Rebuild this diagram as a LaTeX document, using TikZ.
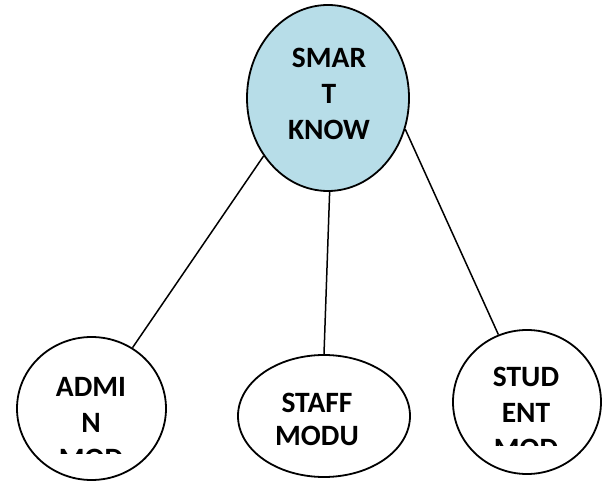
\documentclass[tikz,border=0pt]{standalone}
\usepackage{fontspec}
\setmainfont{Carlito}
\usetikzlibrary{shapes.geometric}
\definecolor{topblue}{HTML}{B7DDE8}
\tikzset{
  module/.style={ellipse, draw=black, line width=1.8pt, inner sep=0pt},
  label/.style={font=\bfseries\fontsize{29.5}{36}\selectfont, align=center, inner sep=0pt, anchor=base},
  link/.style={draw=black, line width=1.5pt}
}
\begin{document}
\begin{tikzpicture}[x=1pt,y=-1pt]
  \useasboundingbox (0,0) rectangle (603,481);

  % ellipses
  \node[module, fill=topblue, minimum width=162pt, minimum height=186pt] (root) at (328,98) {};
  \node[module, fill=white, minimum width=149pt, minimum height=143pt] (admin) at (91.5,408.5) {};
  \node[module, fill=white, minimum width=172pt, minimum height=122pt] (staff) at (324,416) {};
  \node[module, fill=white, minimum width=148pt, minimum height=144pt] (student) at (527,402) {};

  % connectors
  \draw[link] (root.222) -- (admin.56);
  \draw[link] (root.271) -- (staff.90);
  \draw[link] (root.338) -- (student.113);

  % labels (anchored at the baseline of their last line)
  \node[label] (rootlbl) at (329,140) {SMAR\\T\\KNOW};
  \node[label, font=\bfseries\fontsize{29.5}{33}\selectfont] (stafflbl) at (317,445) {STAFF\\MODU};
  \begin{scope}
    \clip (0,0) rectangle (200,453);
    \node[label] (adminlbl) at (91,468) {ADMI\\N\\MOD};
  \end{scope}
  \begin{scope}
    \clip (430,0) rectangle (603,445);
    \node[label] (studentlbl) at (526,458) {STUD\\ENT\\MOD};
  \end{scope}
\end{tikzpicture}
\end{document}
